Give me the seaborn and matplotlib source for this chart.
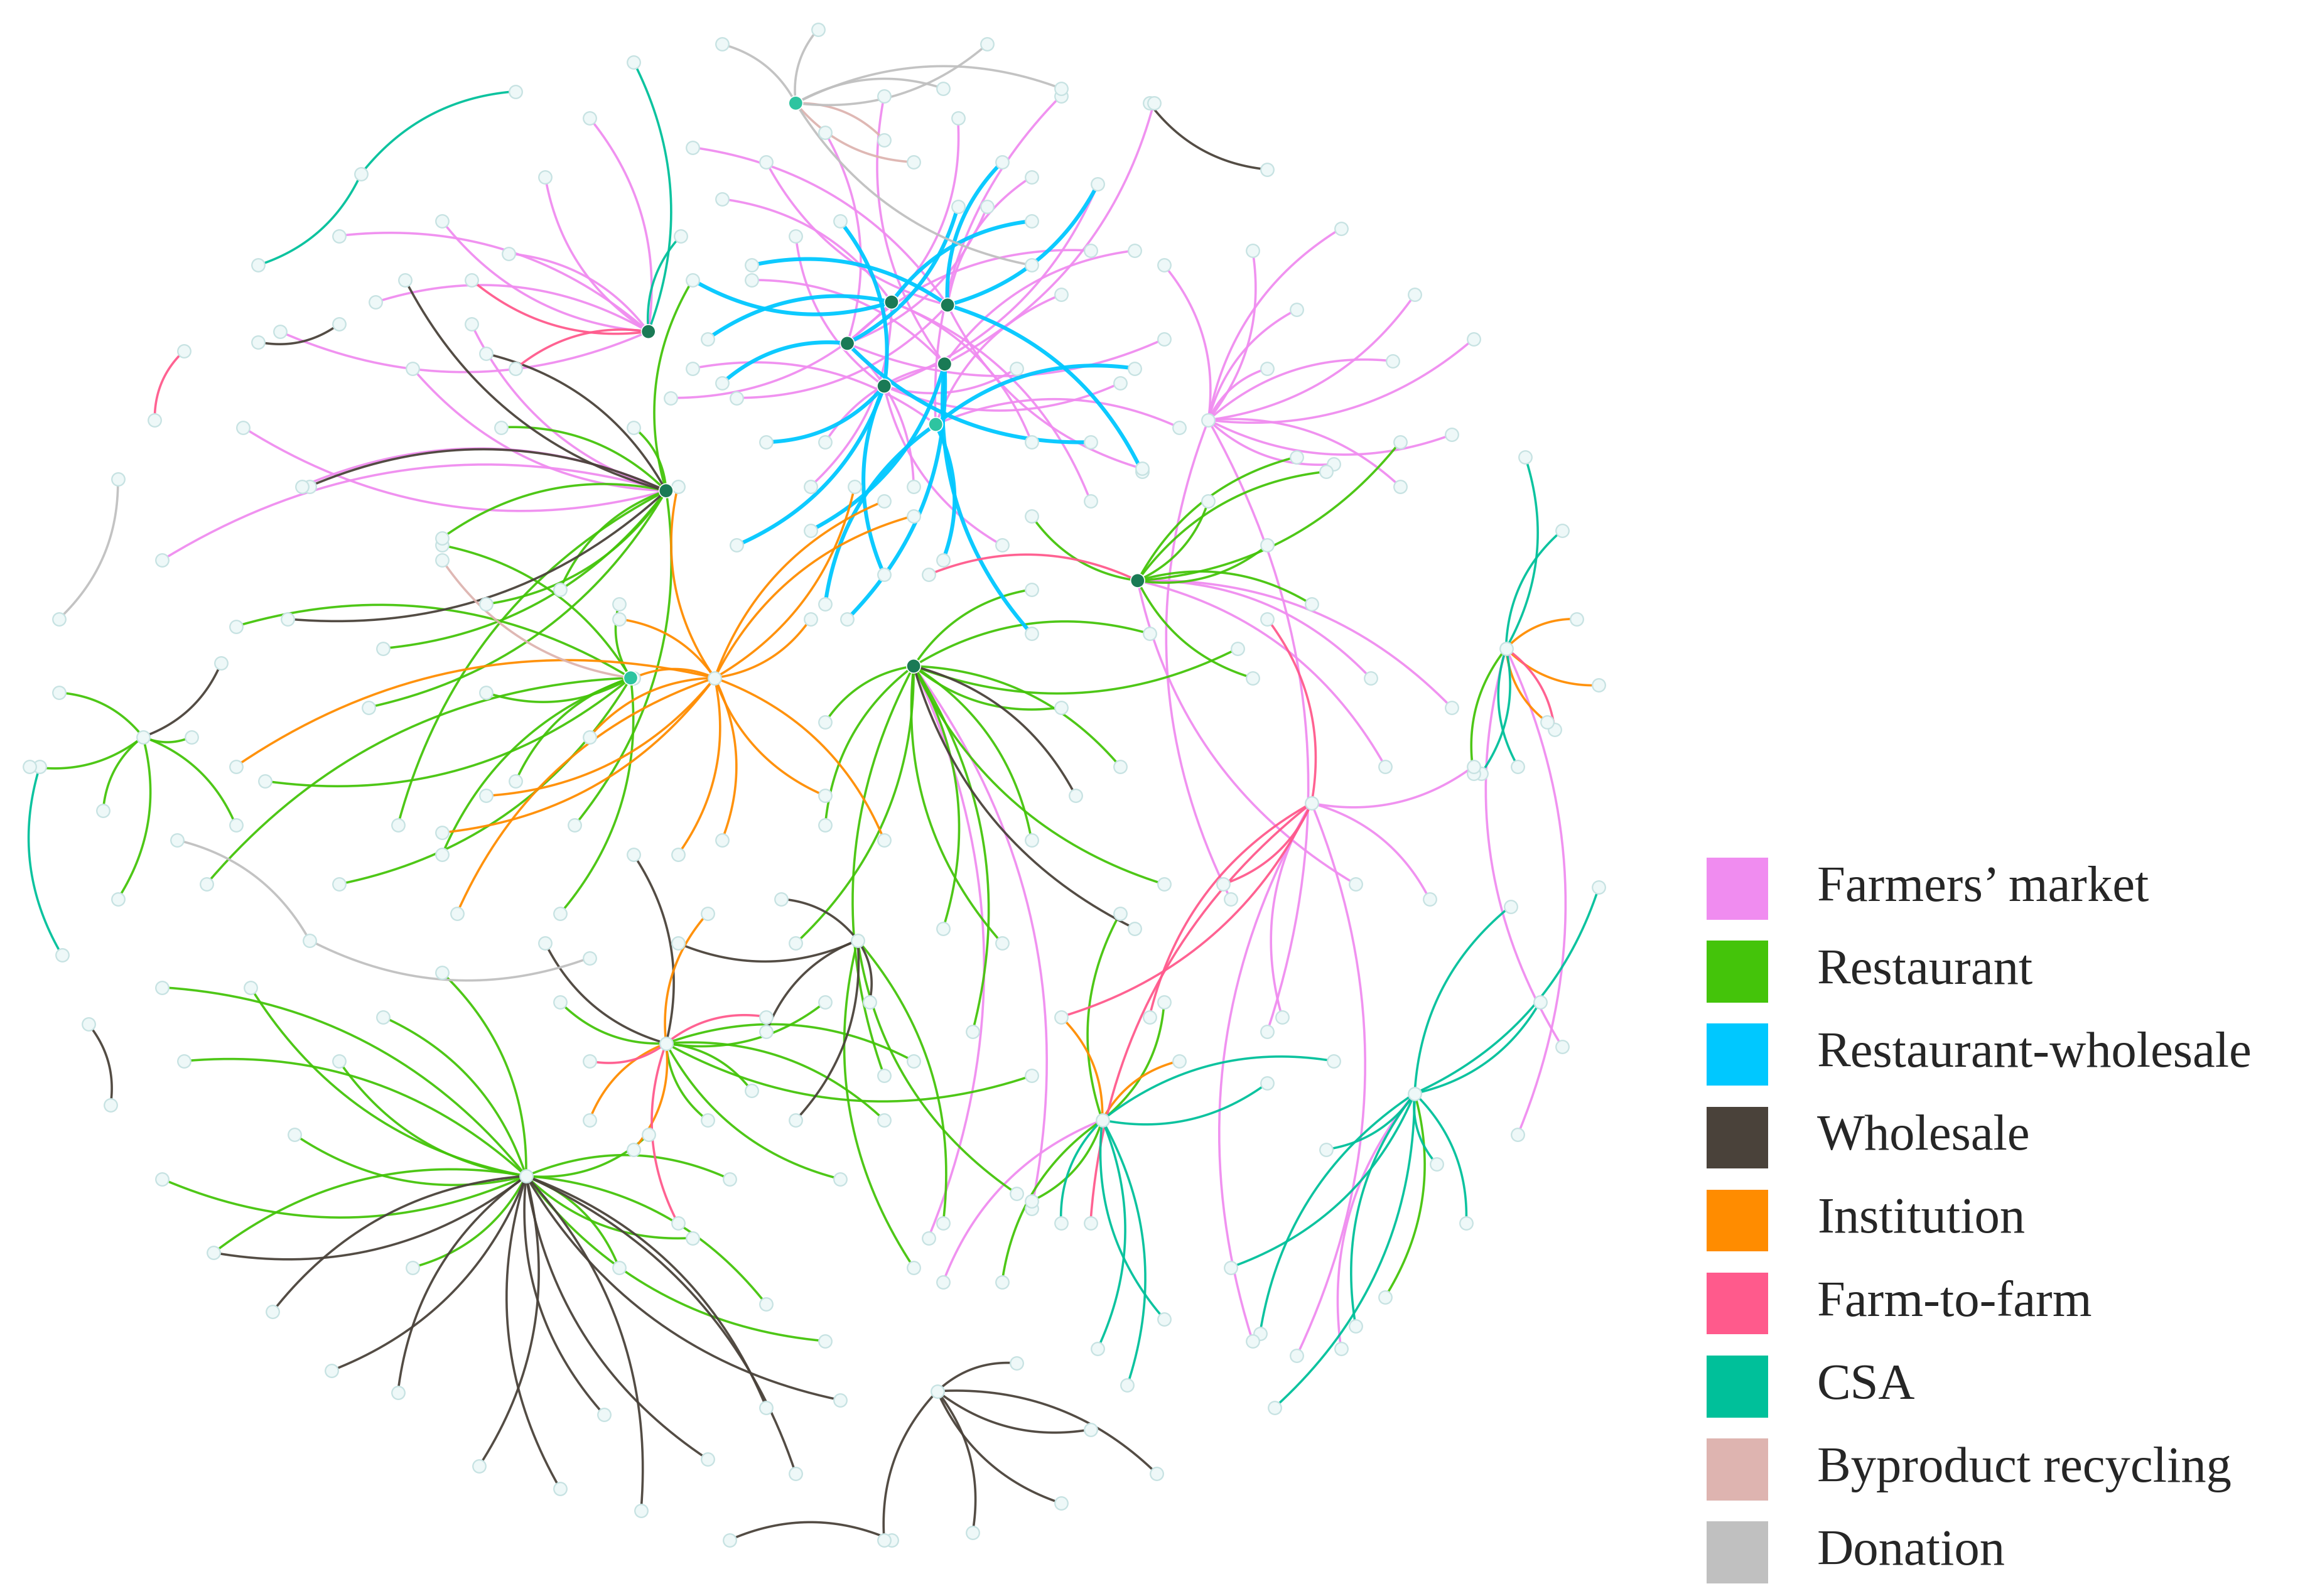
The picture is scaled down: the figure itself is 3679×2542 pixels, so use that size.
import numpy as np
import pandas as pd
import matplotlib
matplotlib.use("Agg")
import matplotlib.pyplot as plt
import seaborn as sns
from matplotlib.patches import Rectangle

sns.set_theme(style="white")

# ---- data (picture coordinates of the layout) ----
hubs = {
    "C0": (605, 205), "C1": (643, 207), "C2": (575, 233), "C3": (641, 247), "C4": (600, 262), "C5": (635, 288),
    "H1": (452, 333), "H2": (440, 225), "H3": (428, 460), "H4": (620, 452), "H5": (772, 394), "H6": (820, 285),
    "H7": (357, 798), "H8": (452, 708), "H9": (582, 638), "H10": (960, 742), "H11": (1022, 440), "H12": (748, 760),
    "H13": (540, 70), "H14": (485, 460), "H15": (97, 500), "H16": (636, 944), "H17": (890, 545),
}
dark_hubs = ["C0", "C1", "C2", "C3", "C4", "H1", "H2", "H4", "H5"]
teal_hubs = ["H3", "H13", "C5"]

categories = ["Farmers\u2019 market", "Restaurant", "Restaurant-wholesale", "Wholesale", "Institution",
              "Farm-to-farm", "CSA", "Byproduct recycling", "Donation"]
colors = ["#f08cf0", "#44c40a", "#00c8ff", "#4a423a", "#ff8c00", "#ff5a8c", "#00c09a", "#deb4b0", "#c0c0c0"]

farmers_market = [
    ("C0", 490, 135), ("C1", 520, 110), ("C2", 560, 90), ("C3", 600, 65), ("C0", 650, 80), ("C1", 700, 120),
    ("C4", 745, 125), ("C3", 770, 170), ("C2", 790, 230), ("C5", 800, 290), ("C1", 775, 318), ("C0", 740, 340),
    ("C4", 680, 370), ("C2", 620, 330), ("C3", 560, 300), ("C1", 500, 270), ("C5", 470, 250), ("C0", 455, 270),
    ("C3", 510, 190), ("C4", 540, 160), ("C2", 670, 140), ("C5", 720, 200), ("C4", 760, 260), ("C0", 550, 330),
    ("C1", 470, 100), ("C5", 720, 65), ("C3", 783, 70), ("C2", 740, 170), ("C4", 690, 250), ("C0", 700, 300),
    ("H2", 230, 160), ("H2", 300, 150), ("H2", 345, 172), ("H1", 280, 250), ("H1", 205, 330), ("H1", 165, 290),
    ("H1", 110, 380), ("H2", 190, 225), ("H2", 255, 205), ("H2", 370, 120), ("H2", 400, 80), ("H1", 320, 220),
    ("H6", 850, 170), ("H6", 910, 155), ("H6", 960, 200), ("H6", 945, 245), ("H6", 985, 295), ("H6", 950, 330),
    ("H6", 905, 315), ("H6", 860, 250), ("H6", 790, 180), ("H6", 880, 210), ("H6", 1000, 230),
    ("H5", 985, 480), ("H17", 1000, 520), ("H5", 940, 520), ("H17", 870, 690), ("H6", 860, 700), ("H5", 920, 600),
    ("H17", 970, 610), ("H11", 1060, 710), ("H11", 1030, 770), ("H17", 850, 910), ("H17", 880, 920),
    ("H10", 910, 915), ("H4", 630, 840), ("H12", 640, 870), ("H4", 700, 820), ("H6", 835, 610), ("H5", 930, 460),
]
restaurant = [
    ("H1", 300, 365), ("H1", 330, 410), ("H1", 380, 400), ("H1", 250, 480), ("H1", 270, 560), ("H1", 390, 560),
    ("H1", 430, 290), ("H1", 470, 190), ("H1", 340, 290), ("H1", 260, 440),
    ("H3", 160, 425), ("H3", 180, 530), ("H3", 140, 600), ("H3", 230, 600), ("H3", 350, 530), ("H3", 330, 470),
    ("H3", 300, 370), ("H3", 380, 620), ("H3", 300, 580), ("H3", 420, 410),
    ("H4", 720, 480), ("H4", 760, 520), ("H4", 790, 600), ("H4", 700, 570), ("H4", 680, 640), ("H4", 660, 700),
    ("H4", 560, 560), ("H4", 540, 640), ("H4", 600, 730), ("H4", 640, 630), ("H4", 560, 490), ("H4", 780, 430),
    ("H4", 840, 440), ("H4", 700, 400),
    ("H5", 860, 370), ("H5", 900, 320), ("H5", 950, 300), ("H5", 890, 410), ("H5", 850, 460), ("H5", 880, 310),
    ("H5", 820, 340), ("H5", 700, 350),
    ("H7", 110, 670), ("H7", 170, 670), ("H7", 125, 720), ("H7", 110, 800), ("H7", 145, 850), ("H7", 200, 770),
    ("H7", 260, 690), ("H7", 230, 720), ("H7", 300, 660), ("H7", 420, 860), ("H7", 470, 840), ("H7", 520, 885),
    ("H7", 560, 910), ("H7", 495, 800), ("H7", 440, 770), ("H7", 280, 860),
    ("H8", 560, 680), ("H8", 600, 760), ("H8", 570, 800), ("H8", 510, 740), ("H8", 700, 730), ("H8", 620, 720),
    ("H8", 480, 760), ("H8", 380, 680),
    ("H15", 40, 470), ("H15", 20, 520), ("H15", 70, 550), ("H15", 80, 610), ("H15", 130, 500), ("H15", 160, 560),
    ("H12", 680, 870), ("H12", 700, 815), ("H12", 790, 680), ("H12", 760, 620),
    ("H9", 690, 810), ("H9", 640, 830), ("H9", 620, 860), ("H10", 940, 880), ("H11", 1000, 525),
]
restaurant_wholesale = [
    ("C0", 470, 190), ("C2", 490, 260), ("C4", 500, 370), ("C5", 560, 410), ("C3", 575, 420), ("C4", 600, 390),
    ("C5", 640, 380), ("C3", 700, 430), ("C1", 775, 320), ("C1", 745, 125), ("C0", 700, 150), ("C2", 650, 140),
    ("C4", 520, 300), ("C1", 510, 180), ("C3", 550, 360), ("C0", 480, 230), ("C5", 770, 250), ("C2", 740, 300),
    ("C1", 680, 110), ("C4", 570, 150),
]
wholesale = [
    ("H7", 145, 850), ("H7", 185, 890), ("H7", 225, 930), ("H7", 270, 945), ("H7", 325, 995), ("H7", 380, 1010),
    ("H7", 435, 1025), ("H7", 480, 990), ("H7", 520, 955), ("H7", 570, 950), ("H7", 540, 1000), ("H7", 410, 960),
    ("H1", 275, 190), ("H1", 210, 330), ("H1", 195, 420), ("H1", 330, 240),
    ("H9", 460, 640), ("H9", 530, 610), ("H9", 590, 680), ("H9", 520, 700), ("H9", 540, 760),
    ("H16", 600, 1045), ("H16", 660, 1040), ("H16", 720, 1020), ("H16", 785, 1000), ("H16", 740, 970), ("H16", 690, 925),
    ("H4", 770, 630), ("H4", 730, 540), ("H8", 430, 580), ("H8", 370, 640), ("H15", 150, 450),
]
wholesale_pairs = [(495, 1045, 605, 1045), (780, 70, 860, 115), (60, 695, 75, 750), (175, 232, 230, 220)]
institution = [
    ("H14", 300, 565), ("H14", 310, 620), ("H14", 330, 540), ("H14", 400, 500), ("H14", 460, 580), ("H14", 560, 540),
    ("H14", 600, 570), ("H14", 580, 330), ("H14", 600, 340), ("H14", 550, 420), ("H14", 620, 350), ("H14", 430, 460),
    ("H14", 460, 330), ("H14", 420, 420), ("H14", 490, 570), ("H14", 160, 520),
    ("H8", 480, 620), ("H8", 400, 760), ("H8", 430, 780),
    ("H11", 1085, 465), ("H11", 1070, 420), ("H11", 1050, 490), ("H12", 800, 720), ("H12", 720, 690),
]
farm_to_farm = [
    ("H2", 320, 190), ("H2", 350, 250), ("H8", 400, 720), ("H8", 460, 830), ("H8", 520, 690),
    ("H17", 780, 690), ("H17", 720, 690), ("H17", 740, 830), ("H17", 830, 600), ("H17", 860, 420),
    ("H11", 1055, 495), ("H5", 630, 390),
]
farm_to_farm_pairs = [(105, 285, 125, 238)]
csa = [
    ("H2", 430, 42), ("H2", 462, 160),
    ("H10", 1085, 602), ("H10", 1025, 615), ("H10", 1045, 680), ("H10", 995, 830), ("H10", 975, 790),
    ("H10", 900, 780), ("H10", 855, 905), ("H10", 865, 955), ("H10", 920, 900), ("H10", 835, 860),
    ("H12", 720, 830), ("H12", 745, 915), ("H12", 790, 895), ("H12", 765, 940), ("H12", 860, 735), ("H12", 905, 720),
    ("H11", 1035, 310), ("H11", 1060, 360), ("H11", 1030, 520), ("H11", 1005, 525),
]
csa_pairs = [(175, 180, 245, 118), (245, 118, 350, 62), (27, 520, 42, 648)]
byproduct = [("H13", 600, 95), ("H13", 620, 110), ("H3", 300, 380)]
donation = [("H13", 490, 30), ("H13", 555, 20), ("H13", 670, 30), ("H13", 640, 60), ("H13", 700, 180), ("H13", 720, 60)]
donation_pairs = [(40, 420, 80, 325), (120, 570, 210, 638), (210, 638, 400, 650)]

edge_sets = [farmers_market, restaurant, restaurant_wholesale, wholesale, institution,
             farm_to_farm, csa, byproduct, donation]
pair_sets = [[], [], [], wholesale_pairs, [], farm_to_farm_pairs, csa_pairs, [], donation_pairs]

# ---- drawing ----
W, H = 1568, 1083
fig = plt.figure(figsize=(18.4, 12.71), dpi=200)
ax = fig.add_axes([0, 0, 1, 1])
ax.set_xlim(0, W)
ax.set_ylim(H, 0)
ax.axis("off")

def curve(x1, y1, x2, y2, sign):
    t = np.linspace(0, 1, 40)
    mx, my = (x1 + x2) / 2, (y1 + y2) / 2
    dx, dy = x2 - x1, y2 - y1
    cx, cy = mx - dy * 0.22 * sign, my + dx * 0.22 * sign
    x = (1 - t) ** 2 * x1 + 2 * (1 - t) * t * cx + t ** 2 * x2
    y = (1 - t) ** 2 * y1 + 2 * (1 - t) * t * cy + t ** 2 * y2
    return x, y

leaves = []
k = 0
for ci, (edges, pairs) in enumerate(zip(edge_sets, pair_sets)):
    lw = 2.2 if ci == 2 else 1.3
    segs = [(hubs[h][0], hubs[h][1], lx, ly) for h, lx, ly in edges] + list(pairs)
    for x1, y1, x2, y2 in segs:
        k += 1
        x, y = curve(x1, y1, x2, y2, 1 if k % 2 else -1)
        ax.plot(x, y, color=colors[ci], lw=lw, alpha=0.95, zorder=1, solid_capstyle="round")
        leaves.append((x2, y2))
        leaves.append((x1, y1))

hub_xy = set(hubs.values())
leaf_df = pd.DataFrame([p for p in set(leaves) if p not in hub_xy] +
                       [hubs[n] for n in hubs if n not in dark_hubs and n not in teal_hubs], columns=["x", "y"])
sns.scatterplot(data=leaf_df, x="x", y="y", ax=ax, s=55, color="#eef8f8", edgecolor="#c6e2e2",
                linewidth=0.8, zorder=3, legend=False)
hub_df = pd.DataFrame([(n, hubs[n][0], hubs[n][1], "#1a7a55") for n in dark_hubs] +
                      [(n, hubs[n][0], hubs[n][1], "#2ec4a0") for n in teal_hubs], columns=["n", "x", "y", "c"])
ax.scatter(hub_df["x"], hub_df["y"], s=65, c=hub_df["c"], edgecolors="white", linewidths=0.6, zorder=4)
ax.set_xlabel("")
ax.set_ylabel("")

# legend
for i, (lab, col) in enumerate(zip(categories, colors)):
    yc = 603 + i * 56.3
    fig.patches.append(Rectangle((1158 / W, 1 - (yc + 21) / H), 42 / W, 42 / H,
                                 transform=fig.transFigure, facecolor=col, edgecolor="none"))
    fig.text(1233 / W, 1 - yc / H, lab, fontsize=29, family="Liberation Serif", va="center", ha="left")

fig.savefig("out.png", dpi=200, facecolor="white")
